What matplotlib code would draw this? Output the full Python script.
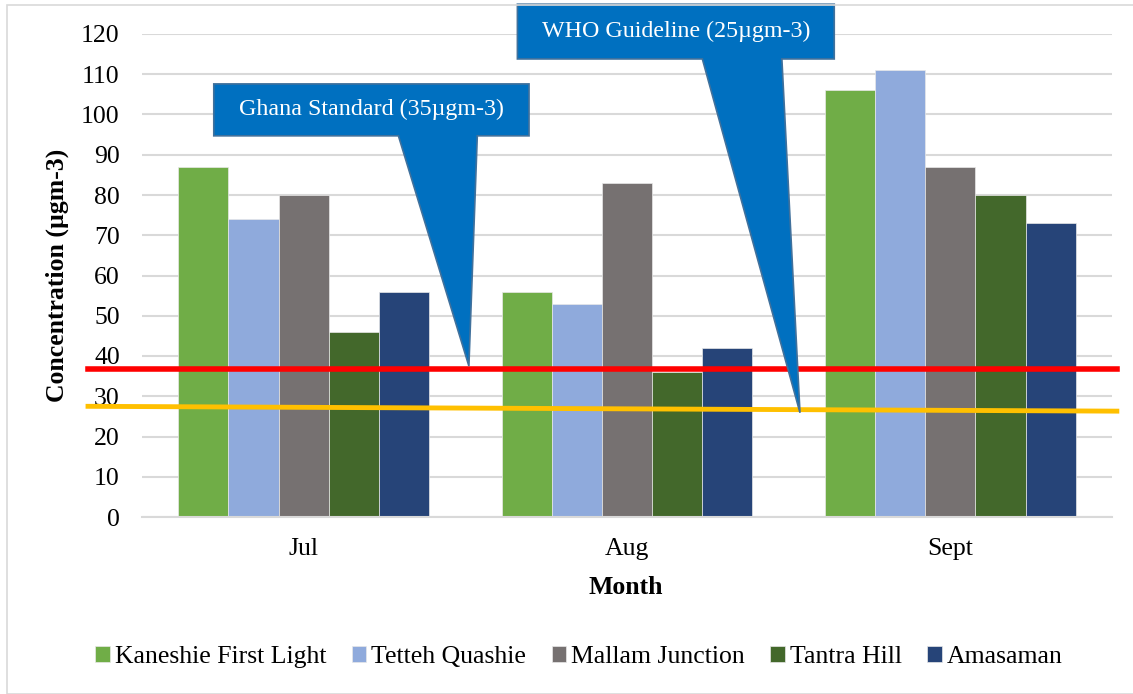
import matplotlib.pyplot as plt
import matplotlib.patches as mpatches
import numpy as np

plt.rcParams['font.family'] = ['Liberation Serif', 'DejaVu Serif']

months = ['Jul', 'Aug', 'Sept']
sites = ['Kaneshie First Light', 'Tetteh Quashie', 'Mallam Junction', 'Tantra Hill', 'Amasaman']
kaneshie = [87, 56, 106]
tetteh = [74, 53, 111]
mallam = [80, 83, 87]
tantra = [46, 36, 80]
amasaman = [56, 42, 73]
series = [kaneshie, tetteh, mallam, tantra, amasaman]
colors = ['#70AD47', '#8FAADC', '#767171', '#43682B', '#264478']

ghana_line = [36.7, 36.7]     # red reference line
who_line = [27.5, 26.3]       # yellow reference line (slightly sloped)

fig = plt.figure(figsize=(11.33, 6.94), dpi=100)
ax = fig.add_axes([142 / 1133, 1 - 517 / 694, 970 / 1133, 483 / 694])

# light grey frame round the whole chart
fig.patches.append(mpatches.Rectangle((7 / 1133, 0), 1.2, 1 - 5 / 694, transform=fig.transFigure,
                                      fill=False, edgecolor='#D9D9D9', linewidth=1.2))

x = np.arange(len(months))
bar_w = 0.155
for i, (vals, c, name) in enumerate(zip(series, colors, sites)):
    ax.bar(x + (i - 2) * bar_w, vals, width=bar_w, color=c, edgecolor='#E8E8E8',
           linewidth=0.5, label=name, zorder=2)

ax.set_xlim(-0.5, 2.5)
ax.set_ylim(0, 120)
ax.set_yticks(range(0, 121, 10))
ax.set_xticks(x)
ax.set_xticklabels(months)
ax.grid(axis='y', color='#D9D9D9', linewidth=1.5, zorder=0)
for s in ['top', 'right', 'left']:
    ax.spines[s].set_visible(False)
ax.spines['bottom'].set_color('#D9D9D9')
ax.spines['bottom'].set_linewidth(1.5)
ax.tick_params(axis='both', length=0, labelsize=18.5)
ax.tick_params(axis='y', pad=16)
ax.tick_params(axis='x', pad=15)

# reference lines, extending past the axes on the left
ax.plot([-0.667, 2.515], ghana_line, color='#FF0000', linewidth=4, clip_on=False, zorder=4)
ax.plot([-0.667, 2.515], who_line, color='#FFC000', linewidth=3.5, clip_on=False, zorder=4)

# callouts
def callout(box, base, tip, text):
    x0, x1, y0, y1 = box
    pts = [(x0, y1), (x1, y1), (x1, y0), (base[1], y0), tip, (base[0], y0), (x0, y0)]
    ax.add_patch(mpatches.Polygon(pts, closed=True, facecolor='#0070C0', edgecolor='#41719C',
                                  linewidth=1.2, clip_on=False, zorder=5))
    ax.text((x0 + x1) / 2, (y0 + y1) / 2, text, color='white', fontsize=17.3,
            ha='center', va='center', zorder=6, clip_on=False)

callout((-0.278, 0.697, 94.7, 107.6), (0.293, 0.537), (0.511, 37.5), 'Ghana Standard (35µgm-3)')
callout((0.661, 1.641, 113.8, 127.4), (1.233, 1.479), (1.535, 25.9), 'WHO Guideline (25µgm-3)')

fig.text(57 / 1133, 1 - 275 / 694, 'Concentration (µgm-3)', rotation=90, ha='center', va='center',
         fontsize=18.5, fontweight='bold')
fig.text(626 / 1133, 1 - 587 / 694, 'Month', ha='center', va='center', fontsize=18.5, fontweight='bold')

fig.legend(loc='center', bbox_to_anchor=(579 / 1133, 1 - 657 / 694), ncol=5, frameon=False,
           fontsize=18.5, handlelength=0.55, handleheight=0.55, handletextpad=0.2, columnspacing=1.0)

fig.savefig('out.png', dpi=100)
